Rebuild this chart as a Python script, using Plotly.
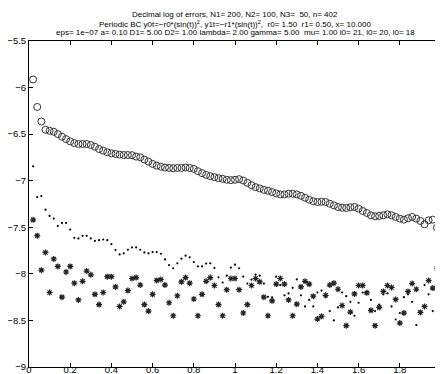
import plotly.graph_objects as go

# decimal log of errors, three runs
circ_err = [-5.913, -6.208, -6.364, -6.453, -6.464, -6.475, -6.500, -6.528, -6.553, -6.578,
            -6.596, -6.606, -6.606, -6.606, -6.617, -6.635, -6.660, -6.677, -6.695, -6.706,
            -6.713, -6.720, -6.724, -6.724, -6.726, -6.741, -6.749, -6.773, -6.795, -6.820,
            -6.838, -6.849, -6.859, -6.863, -6.866, -6.863, -6.863, -6.859, -6.863, -6.873,
            -6.898, -6.919, -6.937, -6.951, -6.962, -6.973, -6.980, -6.990, -6.994, -6.990,
            -6.983, -6.998, -7.023, -7.048, -7.069, -7.083, -7.098, -7.108, -7.122, -7.136,
            -7.147, -7.147, -7.140, -7.140, -7.147, -7.162, -7.183, -7.204, -7.221, -7.229,
            -7.226, -7.229, -7.247, -7.265, -7.282, -7.290, -7.293, -7.286, -7.282, -7.300,
            -7.325, -7.346, -7.371, -7.382, -7.378, -7.371, -7.361, -7.371, -7.389, -7.407,
            -7.418, -7.403, -7.389, -7.407, -7.432, -7.467, -7.425, -7.418, -7.503]

dot_err = [-6.845, -7.176, -7.165, -7.311, -7.378, -7.407, -7.485, -7.453, -7.453, -7.524,
           -7.613, -7.620, -7.592, -7.592, -7.620, -7.645, -7.638, -7.631, -7.638, -7.680,
           -7.744, -7.791, -7.780, -7.741, -7.716, -7.716, -7.741, -7.770, -7.780, -7.766,
           -7.766, -7.784, -7.845, -7.905, -7.940, -7.887, -7.837, -7.805, -7.823, -7.873,
           -7.919, -7.919, -7.890, -7.887, -7.937, -8.037, -8.093, -8.019, -7.933, -7.901,
           -7.940, -8.029, -8.104, -8.061, -8.008, -8.019, -8.104, -8.246, -8.253, -8.030,
           -8.120, -8.230, -8.210, -8.150, -8.060, -8.230, -8.350, -8.280, -8.350, -8.200,
           -8.180, -8.250, -8.400, -8.500, -8.360, -8.200, -8.240, -8.300, -8.450, -8.310,
           -8.200, -8.190, -8.280, -8.400, -8.330, -8.220, -8.210, -8.350, -8.490, -8.420,
           -8.250, -8.220, -8.300, -8.550, -8.400, -8.120, -8.220, -8.400, -8.220]

star_err = [-7.42, -7.59, -7.96, -7.77, -8.20, -7.84, -7.92, -8.25, -7.98, -7.92,
            -8.10, -8.28, -8.08, -7.97, -8.01, -8.22, -8.33, -8.20, -8.03, -8.03,
            -8.14, -8.35, -8.30, -8.18, -8.05, -8.04, -8.12, -8.33, -8.40, -8.22,
            -8.07, -8.06, -8.12, -8.31, -8.45, -8.235, -8.086, -8.04, -8.10, -8.27,
            -8.45, -8.22, -8.08, -8.04, -8.125, -8.33, -8.45, -8.17, -8.05, -8.05,
            -8.17, -8.42, -8.33, -8.125, -8.05, -8.086, -8.25, -8.45, -8.29, -8.11,
            -8.05, -8.11, -8.28, -8.45, -8.325, -8.14, -8.08, -8.11, -8.24, -8.485,
            -8.456, -8.23, -8.12, -8.10, -8.165, -8.34, -8.556, -8.41, -8.215, -8.125,
            -8.125, -8.204, -8.392, -8.556, -8.36, -8.189, -8.125, -8.146, -8.275, -8.528,
            -8.421, -8.189, -8.104, -8.165, -8.414, -8.35, -8.072, -8.153, -7.94]

x_vals = [0.02 * (k + 1) for k in range(len(circ_err))]

x_ticks = [0, 0.2, 0.4, 0.6, 0.8, 1, 1.2, 1.4, 1.6, 1.8, 2]
y_ticks = [-9, -8.5, -8, -7.5, -7, -6.5, -6, -5.5]

title_lines = [
    "Decimal log of errors, N1= 200, N2= 100, N3=  50, n= 402",
    "Periodic BC y0t=\u2212r0*(sin(t))<sup>2</sup>, y1t=\u2212r1*(sin(t))<sup>2</sup>,  r0= 1.50  r1= 0.50, x= 10.000",
    "eps= 1e\u221207 a= 0.10 D1= 5.00 D2= 1.00 lambda= 2.00 gamma= 5.00  mu= 1.00 l0= 21, l0= 20, l0= 18",
]

fig = go.Figure()
fig.add_trace(go.Scatter(x=x_vals, y=circ_err, mode="markers",
                         marker=dict(symbol="circle-open", size=7, color="#333333", line=dict(width=1))))
fig.add_trace(go.Scatter(x=x_vals, y=dot_err, mode="markers",
                         marker=dict(symbol="circle", size=2.2, color="black")))
fig.add_trace(go.Scatter(x=x_vals, y=star_err, mode="markers",
                         marker=dict(symbol="asterisk-open", size=5, color="#222222",
                                     line=dict(width=1.2, color="#222222"))))

axis_style = dict(showgrid=False, zeroline=False, showline=True, linecolor="black", linewidth=1,
                  mirror="allticks", ticks="inside", ticklen=4, tickcolor="black",
                  ticklabeloverflow="allow", automargin=False,
                  tickfont=dict(family="Liberation Sans", size=9.5, color="black"))

# labels pulled up towards the axis so they stay inside the small page
fig.update_xaxes(range=[0, 2], tickvals=x_ticks, ticktext=[str(v) for v in x_ticks],
                 ticklabelstandoff=-6, **axis_style)
fig.update_yaxes(range=[-9, -5.5], tickvals=y_ticks, ticklabelstandoff=0, **axis_style)

# three title lines, tight spacing like the original
for i, line in enumerate(title_lines):
    fig.add_annotation(text=line, xref="paper", yref="paper", x=0.5, y=1.081 - i * 0.028,
                       xanchor="center", yanchor="middle", showarrow=False,
                       font=dict(family="Liberation Sans", size=8, color="black"))

fig.update_layout(width=443, height=374, showlegend=False,
                  margin=dict(l=21, r=10, t=33, b=15),
                  plot_bgcolor="white", paper_bgcolor="white")

fig.write_html("out.html")
